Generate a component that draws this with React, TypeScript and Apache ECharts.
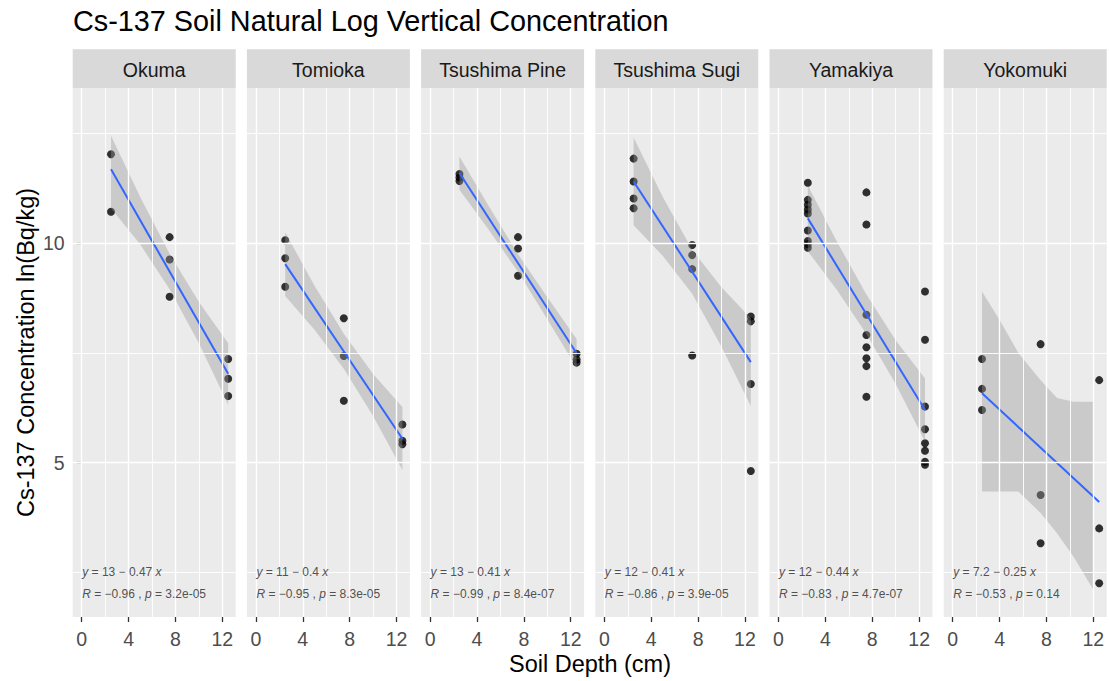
import React, { useEffect, useRef } from 'react';
import * as echarts from 'echarts';

// Sites, one facet each
const facets = ['Okuma', 'Tomioka', 'Tsushima Pine', 'Tsushima Sugi', 'Yamakiya', 'Yokomuki'];

// Soil depth (cm) and ln(Bq/kg) Cs-137 concentration per site
const okumaDepth = [2.5, 2.5, 7.5, 7.5, 7.5, 12.5, 12.5, 12.5];
const okumaConc = [12.03, 10.72, 10.14, 9.63, 8.78, 7.36, 6.91, 6.52];
const tomiokaDepth = [2.5, 2.5, 2.5, 7.5, 7.5, 7.5, 12.5, 12.5, 12.5];
const tomiokaConc = [10.07, 9.66, 9.01, 8.29, 7.43, 6.41, 5.87, 5.5, 5.42];
const pineDepth = [2.5, 2.5, 2.5, 7.5, 7.5, 7.5, 12.5, 12.5, 12.5];
const pineConc = [11.58, 11.5, 11.42, 10.14, 9.88, 9.26, 7.48, 7.35, 7.28];
const sugiDepth = [2.5, 2.5, 2.5, 2.5, 7.5, 7.5, 7.5, 7.5, 12.5, 12.5, 12.5, 12.5];
const sugiConc = [11.93, 11.41, 11.02, 10.8, 9.96, 9.73, 9.41, 7.44, 8.33, 8.22, 6.79, 4.81];
const yamakiyaDepth = [
  2.5, 2.5, 2.5, 2.5, 2.5, 2.5, 2.5, 2.5, 2.5,
  7.5, 7.5, 7.5, 7.5, 7.5, 7.5, 7.5, 7.5,
  12.5, 12.5, 12.5, 12.5, 12.5, 12.5, 12.5, 12.5,
];
const yamakiyaConc = [
  11.38, 10.99, 10.88, 10.77, 10.68, 10.29, 10.05, 9.98, 9.9,
  11.16, 10.43, 8.37, 7.91, 7.63, 7.38, 7.2, 6.5,
  8.9, 7.8, 6.28, 5.76, 5.44, 5.27, 5.02, 4.95,
];
const yokomukiDepth = [2.5, 2.5, 2.5, 7.5, 7.5, 7.5, 12.5, 12.5, 12.5];
const yokomukiConc = [7.36, 6.68, 6.2, 7.7, 4.26, 3.16, 6.88, 3.5, 2.25];

// Linear fit per site: y = intercept + slope * x, fitted over this depth span
const intercepts = [12.85, 10.52, 12.63, 12.44, 11.66, 7.2];
const slopes = [-0.466, -0.398, -0.411, -0.412, -0.437, -0.248];
const fitFrom = [2.5, 2.5, 2.5, 2.5, 2.5, 2.5];
const fitTo = [12.5, 12.5, 12.5, 12.5, 12.5, 12.5];
const rValues = [-0.96, -0.95, -0.99, -0.86, -0.83, -0.53];
const pValues = ['3.2e-05', '8.3e-05', '8.4e-07', '3.9e-05', '4.7e-07', '0.14'];

// 95% confidence ribbon of each fit
const bandXOkuma = [2.5, 5, 7.5, 10, 12.5];
const bandLowOkuma = [10.8, 9.97, 8.95, 7.72, 6.32];
const bandHighOkuma = [12.45, 11.05, 9.76, 8.66, 7.72];
const bandXTomioka = [2.5, 5, 7.5, 10, 12.5];
const bandLowTomioka = [8.8, 8.03, 7.14, 6.06, 4.83];
const bandHighTomioka = [10.25, 9.03, 7.94, 7.02, 6.27];
const bandXPine = [2.5, 5, 7.5, 10, 12.5];
const bandLowPine = [11.22, 10.31, 9.35, 8.27, 7.16];
const bandHighPine = [11.98, 10.85, 9.75, 8.77, 7.82];
const bandXSugi = [2.5, 5, 7.5, 10, 12.5];
const bandLowSugi = [10.41, 9.71, 8.85, 7.64, 6.29];
const bandHighSugi = [12.41, 11.05, 9.85, 9.0, 8.29];
const bandXYamakiya = [2.5, 5, 7.5, 10, 12.5];
const bandLowYamakiya = [9.82, 8.93, 7.93, 6.79, 5.48];
const bandHighYamakiya = [11.32, 10.03, 8.83, 7.79, 6.92];
const bandXYokomuki = [2.5, 4, 5.6, 7.5, 8.9, 10.3, 12];
const bandLowYokomuki = [4.34, 4.34, 4.34, 3.85, 3.39, 2.86, 2.1];
const bandHighYokomuki = [8.9, 8.25, 7.5, 6.88, 6.47, 6.39, 6.39];

// Axis breaks
const xMajor = [0, 4, 8, 12];
const xMinor = [2, 6, 10];
const yMajor = [5, 10];
const yMinor = [2.5, 7.5, 12.5];
const xRange = [-0.77, 13.14];
const yRange = [1.48, 13.54];
const equationY = 2.5;
const statsY = 2.0;

const points = [
  [okumaDepth, okumaConc],
  [tomiokaDepth, tomiokaConc],
  [pineDepth, pineConc],
  [sugiDepth, sugiConc],
  [yamakiyaDepth, yamakiyaConc],
  [yokomukiDepth, yokomukiConc],
];
const bands = [
  [bandXOkuma, bandLowOkuma, bandHighOkuma],
  [bandXTomioka, bandLowTomioka, bandHighTomioka],
  [bandXPine, bandLowPine, bandHighPine],
  [bandXSugi, bandLowSugi, bandHighSugi],
  [bandXYamakiya, bandLowYamakiya, bandHighYamakiya],
  [bandXYokomuki, bandLowYokomuki, bandHighYokomuki],
];

const FONT = '"Liberation Sans", Arial, Helvetica, sans-serif';
const PANEL_LEFT = 72.7;
const PANEL_STEP = 174.2;
const PANEL_W = 163;
const PANEL_TOP = 88;
const PANEL_H = 529;
const STRIP_TOP = 49.3;
const STRIP_H = 38.7;

const signif = (v: number) => String(Number(v.toPrecision(2)));

function buildOption() {
  const grid: any[] = [];
  const xAxis: any[] = [];
  const yAxis: any[] = [];
  const series: any[] = [];
  const graphic: any[] = [];

  facets.forEach((name, i) => {
    const left = PANEL_LEFT + PANEL_STEP * i;
    grid.push({
      left,
      top: PANEL_TOP,
      width: PANEL_W,
      height: PANEL_H,
      show: true,
      backgroundColor: '#EBEBEB',
      borderWidth: 0,
      containLabel: false,
    });
    xAxis.push({
      gridIndex: i,
      type: 'value',
      min: xRange[0],
      max: xRange[1],
      axisLine: { show: false },
      splitLine: { show: false },
      axisTick: {
        show: true,
        length: 5,
        customValues: xMajor,
        lineStyle: { color: '#333333', width: 1.3 },
      },
      axisLabel: {
        show: true,
        customValues: xMajor,
        color: '#4D4D4D',
        fontSize: 19.5,
        fontFamily: FONT,
        margin: 12,
      },
    });
    yAxis.push({
      gridIndex: i,
      type: 'value',
      min: yRange[0],
      max: yRange[1],
      axisLine: { show: false },
      splitLine: { show: false },
      axisTick: {
        show: i === 0,
        length: 5,
        customValues: yMajor,
        lineStyle: { color: '#333333', width: 1.3 },
      },
      axisLabel: {
        show: i === 0,
        customValues: yMajor,
        color: '#4D4D4D',
        fontSize: 19.5,
        fontFamily: FONT,
        margin: 8,
      },
    });

    // panel gridlines
    const gridLines: any[] = [];
    xMajor.forEach((v) => gridLines.push({ xAxis: v, lineStyle: { width: 1.4 } }));
    xMinor.forEach((v) => gridLines.push({ xAxis: v, lineStyle: { width: 0.9 } }));
    yMajor.forEach((v) => gridLines.push({ yAxis: v, lineStyle: { width: 1.4 } }));
    yMinor.forEach((v) => gridLines.push({ yAxis: v, lineStyle: { width: 0.9 } }));
    series.push({
      type: 'scatter',
      xAxisIndex: i,
      yAxisIndex: i,
      data: [],
      z: 1,
      silent: true,
      markLine: {
        silent: true,
        symbol: ['none', 'none'],
        label: { show: false },
        lineStyle: { color: '#FFFFFF', type: 'solid' },
        emphasis: { disabled: true },
        data: gridLines,
      },
    });

    // observations
    const [xs, ys] = points[i];
    series.push({
      type: 'scatter',
      xAxisIndex: i,
      yAxisIndex: i,
      data: xs.map((x, k) => [x, ys[k]]),
      symbol: 'circle',
      symbolSize: 8,
      itemStyle: { color: '#000000' },
      z: 2,
      silent: true,
    });

    // confidence ribbon
    const [bx, blo, bhi] = bands[i];
    series.push({
      type: 'custom',
      xAxisIndex: i,
      yAxisIndex: i,
      data: [[bx[0], blo[0]]],
      z: 3,
      silent: true,
      renderItem: (_params: any, api: any) => {
        const pts: number[][] = [];
        bx.forEach((x, k) => pts.push(api.coord([x, bhi[k]])));
        for (let k = bx.length - 1; k >= 0; k--) pts.push(api.coord([bx[k], blo[k]]));
        return {
          type: 'polygon',
          shape: { points: pts },
          style: { fill: 'rgba(153,153,153,0.4)', stroke: 'none' },
        };
      },
    });

    // fitted line
    const a = intercepts[i];
    const b = slopes[i];
    series.push({
      type: 'line',
      xAxisIndex: i,
      yAxisIndex: i,
      data: [
        [fitFrom[i], a + b * fitFrom[i]],
        [fitTo[i], a + b * fitTo[i]],
      ],
      symbol: 'none',
      lineStyle: { color: '#3366FF', width: 2 },
      z: 4,
      silent: true,
    });

    // regression equation and correlation
    const eq = `{i|y} = ${signif(a)} \u2212 ${signif(-b)} {i|x}`;
    const r = rValues[i];
    const stats = `{i|R} = ${r < 0 ? '\u2212' : ''}${Math.abs(r).toFixed(2)} , {i|p} = ${pValues[i]}`;
    const labelStyle = {
      show: true,
      position: 'right',
      distance: 0,
      fontSize: 12,
      color: '#262626',
      fontFamily: FONT,
      rich: { i: { fontStyle: 'italic', fontSize: 12, color: '#262626', fontFamily: FONT } },
    };
    series.push({
      type: 'scatter',
      xAxisIndex: i,
      yAxisIndex: i,
      symbolSize: 1,
      itemStyle: { color: 'rgba(0,0,0,0)' },
      z: 5,
      silent: true,
      data: [
        { value: [0, equationY], label: { ...labelStyle, formatter: eq } },
        { value: [0, statsY], label: { ...labelStyle, formatter: stats } },
      ],
    });

    // facet strip
    graphic.push({
      type: 'rect',
      shape: { x: left, y: STRIP_TOP, width: PANEL_W, height: STRIP_H },
      style: { fill: '#D9D9D9' },
      silent: true,
    });
    graphic.push({
      type: 'text',
      x: left + PANEL_W / 2,
      y: STRIP_TOP + STRIP_H / 2 + 1,
      style: {
        text: name,
        fontSize: 19.5,
        fontFamily: FONT,
        fill: '#1A1A1A',
        align: 'center',
        verticalAlign: 'middle',
      },
      silent: true,
    });
  });

  graphic.push({
    type: 'text',
    x: 73,
    y: 21,
    style: {
      text: 'Cs-137 Soil Natural Log Vertical Concentration',
      fontSize: 28.8,
      fontFamily: FONT,
      fill: '#000000',
      align: 'left',
      verticalAlign: 'middle',
    },
    silent: true,
  });
  graphic.push({
    type: 'text',
    x: 590,
    y: 664,
    style: {
      text: 'Soil Depth (cm)',
      fontSize: 23.5,
      fontFamily: FONT,
      fill: '#000000',
      align: 'center',
      verticalAlign: 'middle',
    },
    silent: true,
  });
  graphic.push({
    type: 'text',
    x: 26,
    y: 352.5,
    rotation: Math.PI / 2,
    style: {
      text: 'Cs-137 Concentration ln(Bq/kg)',
      fontSize: 23.5,
      fontFamily: FONT,
      fill: '#000000',
      align: 'center',
      verticalAlign: 'middle',
    },
    silent: true,
  });

  return {
    animation: false,
    backgroundColor: '#FFFFFF',
    grid,
    xAxis,
    yAxis,
    series,
    graphic,
  };
}

export default function App() {
  const ref = useRef<HTMLDivElement>(null);
  useEffect(() => {
    if (!ref.current) return;
    const chart = echarts.init(ref.current, undefined, { renderer: 'svg' });
    chart.setOption(buildOption() as any);
    return () => chart.dispose();
  }, []);
  return (
    <div
      ref={ref}
      style={{ position: 'absolute', left: 0, top: 0, width: 1109, height: 681, background: '#FFFFFF' }}
    />
  );
}
